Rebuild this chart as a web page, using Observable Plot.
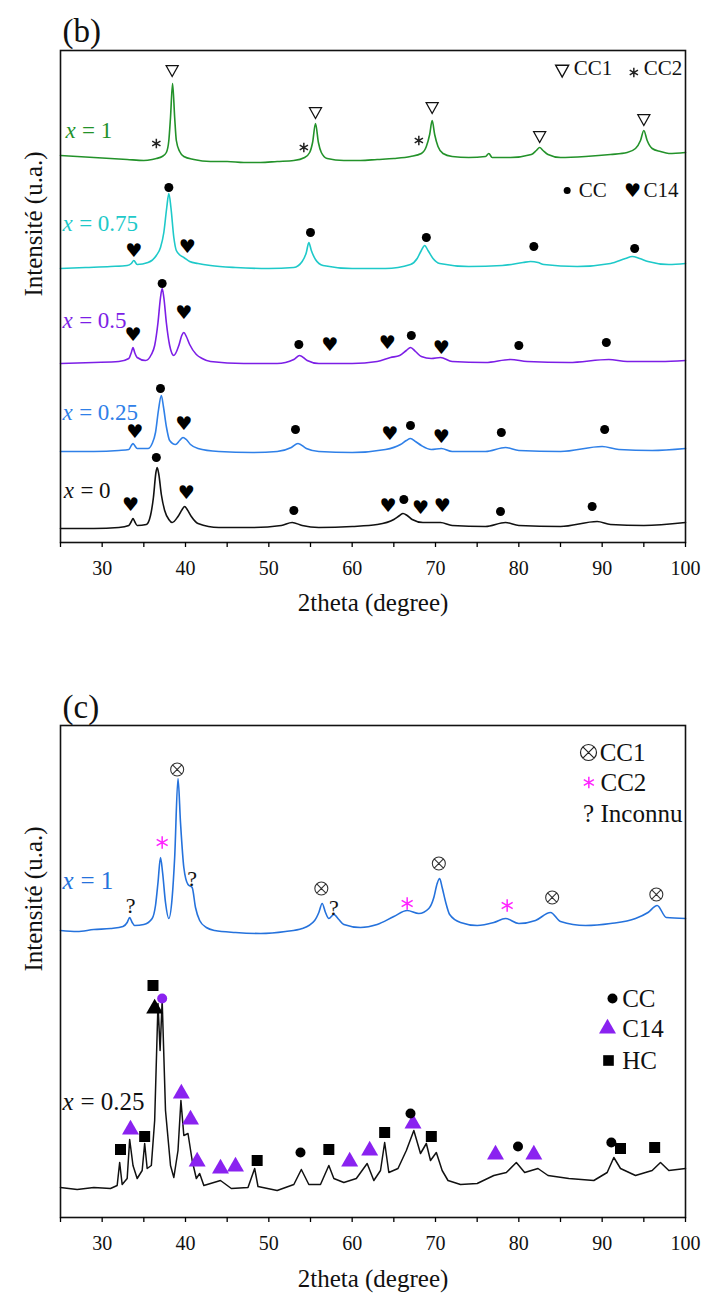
<!DOCTYPE html>
<html><head><meta charset="utf-8">
<script src="https://cdn.jsdelivr.net/npm/d3@7"></script>
<script src="https://cdn.jsdelivr.net/npm/@observablehq/plot@0.6"></script>
<style>body{margin:0;background:#fff;} #chart svg{display:block;}</style>
</head><body><div id="chart"></div>
<script>
// ---------- axes ----------
const xTicks = [30, 40, 50, 60, 70, 80, 90, 100];
const xMinor = [25, 35, 45, 55, 65, 75, 85, 95];
const xTitle = "2theta (degree)";
const yTitle = "Intensité (u.a.)";

// ---------- panel (b) patterns: [2theta, intensity (a.u., offset)] ----------
const b_x1 = [[25,387],[27,386],[29,385],[31,384],[33,383],[35,382],[36,383],[36.5,384],[37.2,386],[37.7,390],[38.0,402],[38.2,425],[38.45,459],[38.7,425],[38.9,402],[39.3,391],[39.8,386],[41,383],[43,381],[45,381],[47,380],[49,380],[51,381],[53,382],[54.3,385],[54.9,390],[55.25,400],[55.6,419],[55.95,400],[56.3,390],[57,384],[59,382],[61,382],[63,383],[65,384],[67,386],[68.3,389],[68.9,396],[69.3,408],[69.6,422],[69.9,408],[70.3,396],[70.9,389],[72,386],[74,385],[76,386],[76.4,389],[76.8,385],[79,385],[81.5,388],[82.1,392],[82.5,395],[82.9,392],[83.5,388],[85,385],[88,386],[91,388],[93,390],[94.0,394],[94.6,402],[95,412],[95.4,402],[96.0,394],[97,391],[98,389],[100,390]];
const b_x075 = [[25,274],[28,275],[31,276],[33,277],[33.5,279],[33.8,282],[34.2,278],[35.5,280],[36.5,287],[37.0,295],[37.4,310],[37.75,335],[38.0,349],[38.25,335],[38.6,305],[38.9,292],[39.4,287],[39.8,285],[40.5,281],[41.5,279],[43,277],[46,275],[50,274],[53,275],[54,281],[54.5,290],[54.8,300],[55.1,292],[55.6,283],[56.5,277],[60,274],[64,274],[67,278],[67.8,284],[68.3,292],[68.7,297],[69.1,292],[69.7,284],[70.5,279],[74,276],[78,277],[80.5,280],[81.4,281],[82.3,280],[83,278],[87,276],[91,279],[92.8,284],[93.6,286],[94.5,284],[95.5,281],[98,278],[100,279]];
const b_x05 = [[25,179],[29,180],[32,181],[33.2,184],[33.5,190],[33.7,195],[33.9,190],[34.2,185],[35.2,182],[35.9,188],[36.3,197],[36.7,220],[37.0,245],[37.2,254],[37.4,245],[37.7,220],[38.1,197],[38.6,187],[39.2,197],[39.55,207],[39.8,210],[40.1,206],[40.5,198],[41.3,188],[42,184],[43,181],[47,179],[51,179],[53,183],[53.7,187],[54.6,182],[56,179],[60,179],[63,181],[64.6,185],[65.7,187],[66.5,192],[67.0,195],[67.6,191],[68.3,186],[69.5,184],[70.6,185],[72,181],[76,180],[79,183],[81,181],[86,180],[90.8,183],[93,181],[97,181],[100,182]];
const b_x025 = [[25,91],[29,91],[32,92],[33.2,93],[33.5,97],[33.7,99],[33.9,97],[34.2,94],[35.5,94],[36.0,99],[36.4,110],[36.75,132],[37.1,147],[37.35,136],[37.7,116],[38.1,102],[38.8,98],[39.3,102],[39.7,105],[40.1,103],[40.6,98],[41.5,94],[44,91],[48,90],[51,91],[52.7,95],[53.5,99],[54.5,94],[56,91],[60,90],[64,93],[65.8,98],[66.5,102],[67,104],[67.6,101],[68.3,97],[69.5,93],[70.7,94],[72,91],[76,91],[78.4,95],[80,92],[85,91],[90,96],[92,93],[96,92],[100,94]];
const b_x0 = [[25,14],[29,14],[32,15],[33.2,17],[33.5,21],[33.7,24],[33.9,21],[34.2,17],[35.3,18],[35.8,27],[36.15,45],[36.45,70],[36.6,75],[36.8,68],[37.1,48],[37.5,32],[38.0,23],[38.4,20],[39.1,26],[39.6,33],[39.9,36],[40.2,33],[40.7,26],[41.5,19],[44,15],[48,15],[51.5,17],[52.8,20],[54,17],[56,15],[60,16],[63,18],[65,23],[65.7,27],[66.1,29],[66.6,27],[67.2,23],[68.5,20],[70.6,20],[72,17],[76,16],[78.4,20],[80,17],[85,16],[89.4,21],[91,18],[95,17],[100,20]];

// panel (b) phase markers
const bCC1 = [[38.4,472],[55.6,430],[69.6,435],[82.5,406],[95.0,423]];
const bCC2 = [[36.5,399],[54.2,395],[68.0,402]];
const bCC = [[38.0,355],[55.0,310],[68.9,305],[81.8,296],[93.9,294],[37.2,259],[53.6,198],[67.1,207],[80.0,197],[90.5,200],[37.0,154],[53.2,113],[67.0,117],[77.9,110],[90.3,113],[36.5,85],[53.0,32],[66.2,43],[77.8,31],[88.8,36]];
const bC14 = [[33.8,292],[40.2,296],[33.7,208],[39.8,230],[57.3,198],[64.2,200],[70.7,195],[33.9,111],[39.8,119],[64.5,109],[70.7,106],[33.4,38],[40.1,50],[64.3,37],[68.2,35],[70.8,37]];
// panel (b) legend
const bLegCC1 = [[85.2,472]], bLegCC2 = [[93.8,470]], bLegCC = [[85.8,352]], bLegC14 = [[93.64,352]];
const bLegText = [{t:86.6,v:474,label:"CC1"},{t:95.0,v:474,label:"CC2"},{t:87.2,v:352,label:"CC"},{t:94.96,v:352,label:"C14"}];
// panel (b) series labels
const bLabels = [{t:25.6,v:412,label:"1",s:"x1"},{t:25.25,v:319,label:"0.75",s:"x075"},{t:25.25,v:222,label:"0.5",s:"x05"},{t:25.25,v:130,label:"0.25",s:"x025"},{t:25.4,v:52,label:"0",s:"x0"}];

// ---------- panel (c) patterns ----------
const c_x1 = [[25,287],[27,286],[29,288],[31,289],[32.5,291],[33.0,295],[33.3,300],[33.6,295],[33.9,292],[35,293],[36,299],[36.4,312],[36.7,335],[37.0,360],[37.25,345],[37.6,315],[38.0,299],[38.4,320],[38.7,360],[39.1,439],[39.4,395],[39.8,350],[40.3,333],[40.8,330],[41.2,310],[41.7,297],[42.5,290],[43.5,287],[46,285],[49,284],[52,286],[54,289],[55.5,297],[56.0,305],[56.4,314],[56.8,305],[57.2,299],[57.8,303],[58.4,298],[59,293],[61,290],[63,293],[65,301],[66.6,307],[68,304],[69.2,309],[69.8,320],[70.2,334],[70.5,339],[70.8,330],[71.2,316],[71.7,303],[73,295],[75,292],[77,295],[78.4,299],[80,294],[82,297],[83.8,305],[85,296],[88,292],[91,294],[94,299],[95.5,305],[96.6,312],[97.7,300],[100,299]];
const c_x025 = [[25,30],[27,28],[29,30],[31,29],[31.8,32],[32.1,55],[32.4,33],[33.0,39],[33.3,78],[33.7,52],[34.2,39],[34.8,47],[35.1,74],[35.4,49],[35.9,52],[36.3,97],[36.7,214],[36.95,167],[37.2,217],[37.6,107],[38.2,52],[38.6,40],[39.1,67],[39.45,117],[39.8,82],[40.3,84],[40.8,57],[41.3,39],[41.7,44],[42.2,32],[44.2,37],[45.5,29],[47.5,30],[48.3,49],[48.7,31],[51,27],[53,33],[53.9,48],[54.8,33],[56.2,33],[57.2,52],[57.8,39],[59,35],[60.5,39],[61.8,54],[62.6,37],[63.4,47],[63.9,75],[64.4,45],[65.5,49],[66.5,67],[67.4,87],[68.2,64],[68.9,74],[69.4,57],[70.1,65],[70.8,47],[71.5,37],[73,33],[75,34],[77,42],[78.5,45],[79.7,55],[80.7,45],[82.3,49],[83.5,42],[86,39],[89,37],[90.6,45],[91.4,60],[92.2,49],[94,42],[96,47],[97,55],[98,47],[100,49]];

// panel (c) phase markers
const cCC1 = [[39.0,448],[56.3,329],[70.4,354],[84.0,320],[96.5,323]];
const cCC2 = [[37.2,375],[66.6,314],[78.6,312]];
const cUnknown = [[33.4,312],[40.8,339],[57.8,310]];
const cCC = [[53.8,65],[67.0,104],[79.9,71],[91.1,75]];
const cCCviolet = [[37.2,219]];
const cC14 = [[33.4,88],[39.5,124],[40.6,98],[41.4,56],[44.2,49],[46.0,51],[59.7,56],[62.1,67],[67.3,94],[77.2,63],[81.8,63]];
const cC14black = [[36.3,209]];
const cHC = [[32.2,68],[35.1,81],[36.1,232],[48.6,57],[57.2,68],[63.9,85],[69.5,81],[92.2,69],[96.3,70]];
// panel (c) legends
const cLegCC1 = [[88.36,465]], cLegCC2 = [[88.4,435]], cLegUnk = [[88.36,404]];
const cLegCC = [[91.24,219]], cLegC14 = [[90.64,189]], cLegHC = [[90.76,157]];
const cLegText = [{t:89.7,v:465,label:"CC1"},{t:89.8,v:435,label:"CC2"},{t:89.8,v:404,label:"Inconnu"},{t:92.4,v:219,label:"CC"},{t:92.4,v:189,label:"C14"},{t:92.4,v:157,label:"HC"}];
const cLabels = [{t:25.24,v:337,label:"1",s:"x1"},{t:25.24,v:116,label:"0.25",s:"x025"}];

// ---------- styling ----------
const colB = {x1:"#23922a", x075:"#1ec9c9", x05:"#7c1ee6", x025:"#2f80e8", x0:"#111111"};
const colC = {x1:"#2572dc", x025:"#111111"};
const violet = "#8a22f0", magenta = "#ff22ff";
const serif = "Liberation Serif";
const sans = "DejaVu Sans";

const nabla = {draw(ctx, size){ const r = Math.sqrt(size/Math.PI); ctx.moveTo(-r,-0.8*r); ctx.lineTo(r,-0.8*r); ctx.lineTo(0,1.0*r); ctx.closePath(); }};
const otimes = {draw(ctx, size){ const r = Math.sqrt(size/Math.PI); ctx.moveTo(r,0); ctx.arc(0,0,r,0,2*Math.PI); const d=r*Math.SQRT1_2; ctx.moveTo(-d,-d); ctx.lineTo(d,d); ctx.moveTo(-d,d); ctx.lineTo(d,-d); }};

const X = d => d[0], Y = d => d[1];
const lineOpts = (stroke) => ({x:X, y:Y, stroke, strokeWidth:1.6, curve:"monotone-x"});

function frameMarks(tag, tagDy, titleDy) {
  return [
    Plot.frame({stroke:"#111", strokeWidth:1.6}),
    Plot.axisX(xMinor, {tickSize:5, tickFormat:() => "", label:null, strokeWidth:1.3}),
    Plot.axisX(xTicks, {tickSize:5, tickPadding:13, fontSize:20, fontFamily:serif, label:null, strokeWidth:1.3, fill:"#111"}),
    Plot.text([xTitle], {frameAnchor:"bottom", lineAnchor:"middle", dy:titleDy, fontSize:25, fontFamily:serif, fill:"#111"}),
    Plot.text([yTitle], {frameAnchor:"left", lineAnchor:"middle", rotate:-90, dx:-27, fontSize:25, fontFamily:serif, fill:"#111"}),
    Plot.text([tag], {frameAnchor:"top-left", lineAnchor:"middle", dx:2, dy:tagDy, fontSize:33, fontFamily:serif, textAnchor:"start", fill:"#111"})
  ];
}

function seriesLabels(labels, colors, fs) {
  return [
    Plot.text(labels, {x:"t", y:"v", text:() => "x", fontStyle:"italic", fontSize:fs, fontFamily:serif, textAnchor:"start", fill:d => colors[d.s]}),
    Plot.text(labels, {x:"t", y:"v", text:d => "= " + d.label, dx:fs*0.72, fontSize:fs, fontFamily:serif, textAnchor:"start", fill:d => colors[d.s]})
  ];
}

const heart = (data) => Plot.text(data, {x:X, y:Y, text:() => "♥", fontSize:19, fontFamily:sans, fill:"#000"});

const plotB = Plot.plot({
  width:701, height:620, marginLeft:60, marginRight:16, marginTop:50, marginBottom:78,
  style:{fontFamily:serif, background:"white", overflow:"visible"},
  x:{domain:[25,100]}, y:{domain:[0,492], axis:null},
  marks:[
    Plot.line(b_x0, lineOpts(colB.x0)),
    Plot.line(b_x025, lineOpts(colB.x025)),
    Plot.line(b_x05, lineOpts(colB.x05)),
    Plot.line(b_x075, lineOpts(colB.x075)),
    Plot.line(b_x1, lineOpts(colB.x1)),
    Plot.dot(bCC1, {x:X, y:Y, symbol:nabla, r:6, fill:"none", stroke:"#111", strokeWidth:1.3}),
    Plot.dot(bCC2, {x:X, y:Y, symbol:"asterisk", r:4.5, stroke:"#222", strokeWidth:1.5}),
    Plot.dot(bCC, {x:X, y:Y, r:4.5, fill:"#000", stroke:"none"}),
    heart(bC14),
    Plot.dot(bLegCC1, {x:X, y:Y, symbol:nabla, r:6.5, fill:"none", stroke:"#111", strokeWidth:1.4}),
    Plot.dot(bLegCC2, {x:X, y:Y, symbol:"asterisk", r:4.5, stroke:"#222", strokeWidth:1.5}),
    Plot.dot(bLegCC, {x:X, y:Y, r:3.5, fill:"#000", stroke:"none"}),
    heart(bLegC14),
    Plot.text(bLegText, {x:"t", y:"v", text:"label", fontSize:21, fontFamily:serif, textAnchor:"start", fill:"#111"}),
    ...seriesLabels(bLabels, colB, 23),
    ...frameMarks("(b)", -19, 60)
  ]
});

const plotC = Plot.plot({
  width:701, height:673, marginLeft:60, marginRight:16, marginTop:105, marginBottom:76,
  style:{fontFamily:serif, background:"white", overflow:"visible"},
  x:{domain:[25,100]}, y:{domain:[0,492], axis:null},
  marks:[
    Plot.line(c_x025, {x:X, y:Y, stroke:colC.x025, strokeWidth:1.5}),
    Plot.line(c_x1, lineOpts(colC.x1)),
    Plot.dot(cCC1, {x:X, y:Y, symbol:otimes, r:6.5, fill:"none", stroke:"#333", strokeWidth:1.1}),
    Plot.dot(cCC2, {x:X, y:Y, symbol:"asterisk", r:6, stroke:magenta, strokeWidth:1.5}),
    Plot.text(cUnknown, {x:X, y:Y, text:() => "?", fontSize:22, fontFamily:serif, fill:"#111"}),
    Plot.dot(cHC, {x:X, y:Y, symbol:"square", r:6.2, fill:"#000", stroke:"none"}),
    Plot.dot(cC14, {x:X, y:Y, symbol:"triangle", r:6.3, fill:violet, stroke:"none"}),
    Plot.dot(cC14black, {x:X, y:Y, symbol:"triangle", r:6.3, fill:"#000", stroke:"none"}),
    Plot.dot(cCC, {x:X, y:Y, r:5, fill:"#000", stroke:"none"}),
    Plot.dot(cCCviolet, {x:X, y:Y, r:5, fill:violet, stroke:"none"}),
    Plot.dot(cLegCC1, {x:X, y:Y, symbol:otimes, r:8, fill:"none", stroke:"#222", strokeWidth:1.2}),
    Plot.dot(cLegCC2, {x:X, y:Y, symbol:"asterisk", r:5.5, stroke:magenta, strokeWidth:1.5}),
    Plot.text(cLegUnk, {x:X, y:Y, text:() => "?", fontSize:25, fontFamily:serif, fill:"#111"}),
    Plot.dot(cLegCC, {x:X, y:Y, r:5, fill:"#000", stroke:"none"}),
    Plot.dot(cLegC14, {x:X, y:Y, symbol:"triangle", r:6.3, fill:violet, stroke:"none"}),
    Plot.dot(cLegHC, {x:X, y:Y, symbol:"square", r:6, fill:"#000", stroke:"none"}),
    Plot.text(cLegText, {x:"t", y:"v", text:"label", fontSize:25, fontFamily:serif, textAnchor:"start", fill:"#111"}),
    ...seriesLabels(cLabels, colC, 25),
    ...frameMarks("(c)", -18, 61)
  ]
});

const chart = document.getElementById("chart");
chart.appendChild(plotB);
chart.appendChild(plotC);
</script>
</body></html>
